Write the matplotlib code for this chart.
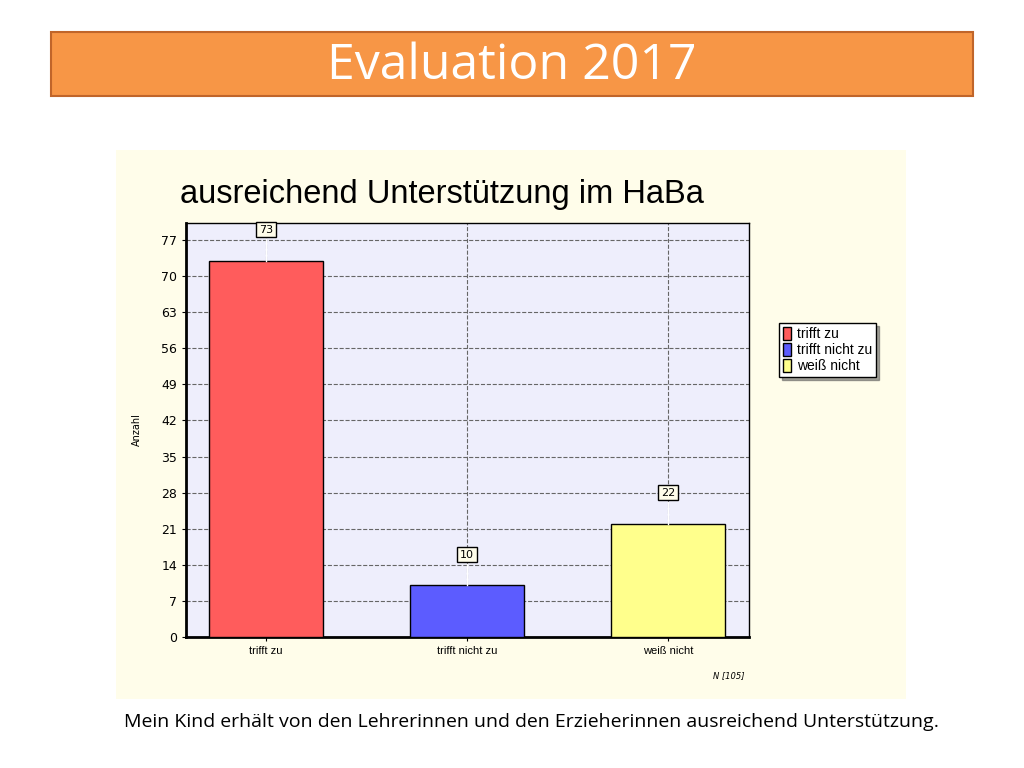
import matplotlib.pyplot as plt
from matplotlib.patches import Rectangle

categories = ['trifft zu', 'trifft nicht zu', 'weiß nicht']
values = [73, 10, 22]
colors = ['#ff5c5c', '#5c5cff', '#ffff8c']
yticks = [0, 7, 14, 21, 28, 35, 42, 49, 56, 63, 70, 77]

fig = plt.figure(figsize=(10.24, 7.68), dpi=100)
fig.patch.set_facecolor('white')

# orange title bar
fig.patches.append(Rectangle((51/1024, 1-96/768), 922/1024, 64/768, transform=fig.transFigure,
                             facecolor='#f79646', edgecolor='#c0652a', linewidth=1.5, zorder=0))
fig.text(512/1024, 1-66/768, 'Evaluation 2017', ha='center', va='center', fontsize=36,
         color='white', family='Open Sans')

# cream chart panel
fig.patches.append(Rectangle((116/1024, 1-699/768), 790/1024, 549/768, transform=fig.transFigure,
                             facecolor='#fffdea', edgecolor='none', zorder=0))
fig.text(180/1024, 1-195/768, 'ausreichend Unterstützung im HaBa', ha='left', va='center',
         fontsize=23.5, family='Liberation Sans')

ax = fig.add_axes([186/1024, 131/768, 563/1024, 414/768])
ax.set_zorder(2)
ax.set_facecolor('#eeeefc')
x = range(len(categories))
ax.bar(x, values, width=0.567, color=colors, edgecolor='black', linewidth=1, zorder=3)
for i, v in enumerate(values):
    ax.plot([i, i], [v, v + 4.2], color='white', lw=1, zorder=3)
    ax.text(i, v + 6, str(v), ha='center', va='center', fontsize=8, zorder=4,
            bbox=dict(boxstyle='square,pad=0.25', fc='#fffdea', ec='black', lw=1))
ax.set_xlim(-0.398, 2.403)
ax.set_ylim(0, 80.3)
ax.set_yticks(yticks)
ax.set_xticks(list(x))
ax.set_xticklabels(categories, fontsize=8, family='Liberation Sans')
ax.tick_params(axis='y', labelsize=9, length=3)
ax.tick_params(axis='x', length=3)
ax.grid(True, linestyle='--', color='#666666', linewidth=0.8, zorder=0)
for s in ax.spines.values():
    s.set_linewidth(1)
ax.spines['left'].set_linewidth(2)
ax.spines['bottom'].set_linewidth(2)
ax.set_ylabel('Anzahl', fontsize=7, labelpad=14)
ax.text(2.38, -7.5, 'N [105]', ha='right', va='center', fontsize=6, style='italic')

handles = [Rectangle((0, 0), 1, 1, fc=c, ec='black') for c in colors]
leg = fig.legend(handles, categories, loc='upper left', bbox_to_anchor=(772/1024, 1-316/768),
                 fontsize=9.5, frameon=True, fancybox=False, shadow=True, handlelength=0.6,
                 handleheight=1.1, handletextpad=0.4, borderpad=0.3, labelspacing=0.1,
                 prop={'family': 'Liberation Sans', 'size': 10})
leg.get_frame().set_edgecolor('black')
leg.set_zorder(3)

fig.text(532/1024, 1-722/768,
         'Mein Kind erhält von den Lehrerinnen und den Erzieherinnen ausreichend Unterstützung.',
         ha='center', va='center', fontsize=14, family='Open Sans')

fig.savefig('out.png', dpi=100)
